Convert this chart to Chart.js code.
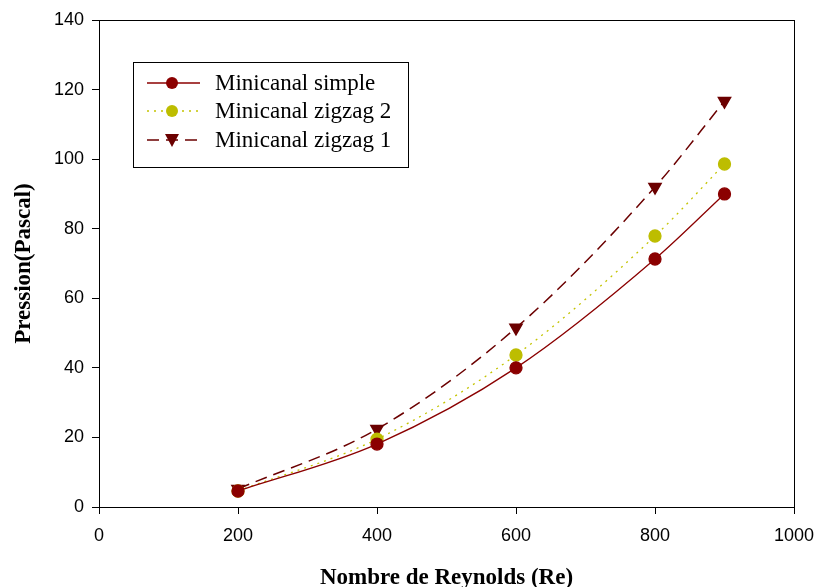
<!DOCTYPE html>
<html><head><meta charset="utf-8">
<script src="https://cdn.jsdelivr.net/npm/chart.js@4/dist/chart.umd.min.js"></script>
<style>html,body{margin:0;padding:0;background:#fff}#wrap{width:817px;height:587px}</style>
</head><body><div id="wrap"><canvas id="c" width="817" height="587"></canvas></div>
<script>
const reynolds = [200, 400, 600, 800, 900];
const simple = [4.6, 18.1, 40.0, 71.3, 90.0];
const zigzag2 = [4.6, 19.5, 43.7, 77.9, 98.6];
const zigzag1 = [5.2, 22.4, 51.5, 92.0, 116.7];
const seriesNames = ['Minicanal simple', 'Minicanal zigzag 2', 'Minicanal zigzag 1'];
const xTicks = [0, 200, 400, 600, 800, 1000];
const yTicks = [0, 20, 40, 60, 80, 100, 120, 140];

const toPts = arr => reynolds.map((x, i) => ({x, y: arr[i]}));

const boxPlugin = {
  id: 'box',
  afterDraw(chart) {
    const {ctx, chartArea: a} = chart;
    ctx.save();
    ctx.strokeStyle = '#000'; ctx.lineWidth = 1;
    ctx.strokeRect(Math.round(a.left) + 0.5, Math.round(a.top) + 0.5, Math.round(a.right - a.left), Math.round(a.bottom - a.top));
    // legend
    const lx = 133, ly = 62, lw = 275, lh = 105;
    ctx.fillStyle = '#fff';
    ctx.fillRect(lx, ly, lw, lh);
    ctx.strokeRect(lx + 0.5, ly + 0.5, lw, lh);
    const rows = [83, 111, 140];
    chart.data.datasets.forEach((ds, i) => {
      const y = rows[i];
      ctx.save();
      ctx.strokeStyle = ds.borderColor; ctx.lineWidth = ds.borderWidth;
      ctx.setLineDash(ds.borderDash || []);
      ctx.beginPath(); ctx.moveTo(147, y); ctx.lineTo(200, y); ctx.stroke();
      ctx.restore();
      ctx.save();
      ctx.fillStyle = ds.pointBackgroundColor;
      if (ds.pointStyle === 'triangle') {
        ctx.beginPath();
        ctx.moveTo(165, y - 6); ctx.lineTo(179, y - 6); ctx.lineTo(172, y + 7); ctx.closePath(); ctx.fill();
      } else {
        ctx.beginPath(); ctx.arc(172, y, 6, 0, Math.PI * 2); ctx.fill();
      }
      ctx.restore();
      ctx.fillStyle = '#000';
      ctx.font = '23px "Liberation Serif", "Times New Roman", serif';
      ctx.textBaseline = 'middle';
      ctx.fillText(ds.label, 215, y + 1);
    });
    ctx.restore();
  }
};

new Chart(document.getElementById('c'), {
  type: 'line',
  data: {
    datasets: [
      {label: seriesNames[0], data: toPts(simple), borderColor: '#8B0000', backgroundColor: '#8B0000',
       pointBackgroundColor: '#8B0000', pointBorderColor: '#8B0000', borderWidth: 1.3, pointRadius: 6,
       pointStyle: 'circle', tension: 0.4, cubicInterpolationMode: 'monotone'},
      {label: seriesNames[1], data: toPts(zigzag2), borderColor: '#C4C400', backgroundColor: '#BDBD00',
       pointBackgroundColor: '#BDBD00', pointBorderColor: '#BDBD00', borderWidth: 1.3, borderDash: [2, 5], pointRadius: 6,
       pointStyle: 'circle', tension: 0.4, cubicInterpolationMode: 'monotone'},
      {label: seriesNames[2], data: toPts(zigzag1), borderColor: '#6B0000', backgroundColor: '#6B0000',
       pointBackgroundColor: '#6B0000', pointBorderColor: '#6B0000', borderWidth: 1.5, borderDash: [12, 7], pointRadius: 7,
       pointStyle: 'triangle', pointRotation: 180, tension: 0.4, cubicInterpolationMode: 'monotone'}
    ]
  },
  options: {
    responsive: false, animation: false,
    layout: {padding: {left: 10, top: 20, right: 23, bottom: 0}},
    plugins: {legend: {display: false}, tooltip: {enabled: false}},
    scales: {
      x: {type: 'linear', min: 0, max: 1000,
        afterBuildTicks: s => { s.ticks = xTicks.map(v => ({value: v})); },
        afterFit: s => { s.height = 80; s.paddingLeft = 0; s.paddingRight = 0; },
        grid: {drawOnChartArea: false, drawTicks: true, tickLength: 7, color: '#000'},
        border: {display: true, color: '#000'},
        ticks: {color: '#000', font: {family: '"Liberation Sans", Arial, sans-serif', size: 18}, padding: 11, maxRotation: 0,
          callback: v => String(v)},
        title: {display: true, text: 'Nombre de Reynolds (Re)', color: '#000',
          font: {family: '"Liberation Serif", "Times New Roman", serif', size: 23, weight: 'bold', lineHeight: 1.0}, padding: {top: 20, bottom: -3}}
      },
      y: {type: 'linear', min: 0, max: 140,
        afterBuildTicks: s => { s.ticks = yTicks.map(v => ({value: v})); },
        afterFit: s => { s.width = 89; s.paddingTop = 0; s.paddingBottom = 0; },
        grid: {drawOnChartArea: false, drawTicks: true, tickLength: 7, color: '#000'},
        border: {display: true, color: '#000'},
        ticks: {color: '#000', font: {family: '"Liberation Sans", Arial, sans-serif', size: 18}, padding: 8, callback: v => String(v)},
        title: {display: true, text: 'Pression(Pascal)', color: '#000',
          font: {family: '"Liberation Serif", "Times New Roman", serif', size: 23, weight: 'bold', lineHeight: 1.2}, padding: {top: 0, bottom: 0}}
      }
    }
  },
  plugins: [boxPlugin]
});
</script></body></html>
